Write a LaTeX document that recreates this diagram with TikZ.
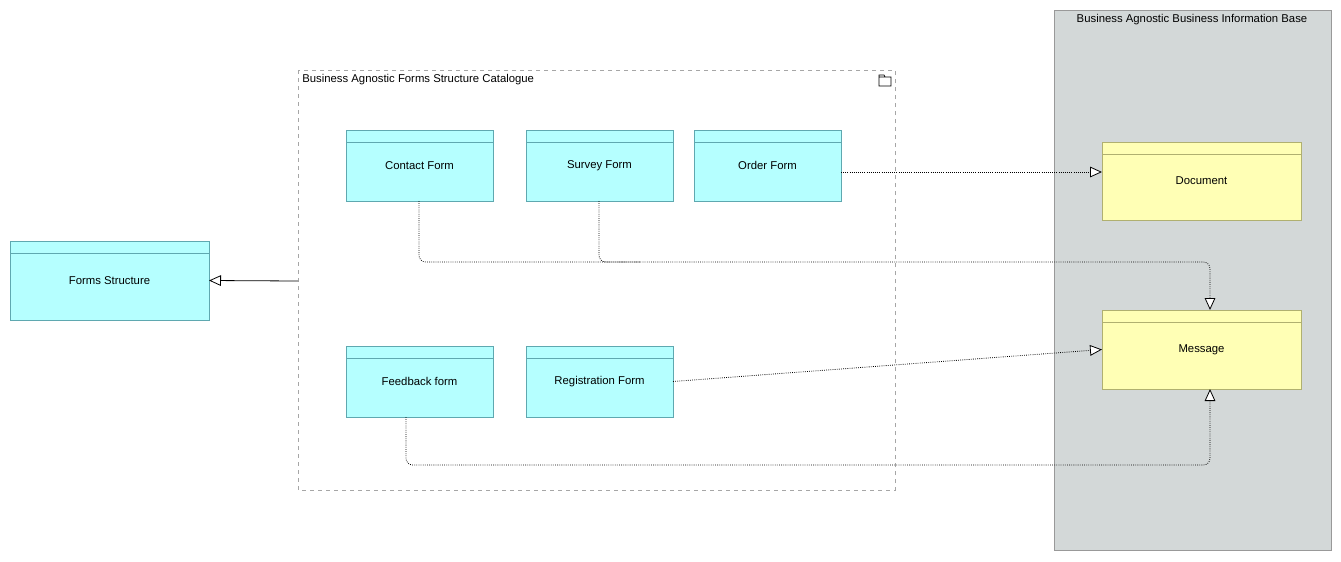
\documentclass[tikz,border=0pt]{standalone}
\usepackage{fontspec}
\setmainfont{Liberation Sans}
\usetikzlibrary{arrows.meta}
\definecolor{cyanf}{HTML}{B5FFFF}
\definecolor{cyanb}{HTML}{5FA8B0}
\definecolor{yelf}{HTML}{FFFFB5}
\definecolor{yelb}{HTML}{B0B070}
\definecolor{grayf}{HTML}{D3D8D8}
\tikzset{
  elem/.style={draw=#1, line width=0.6pt},
  lbl/.style={font=\fontsize{8.5}{10}\selectfont, inner sep=0pt},
  tri/.style={-{Triangle[open,length=9pt,width=8pt,fill=white]}},
  dep/.style={tri, densely dotted, line width=0.6pt, rounded corners=5pt},
}
\begin{document}
\begin{tikzpicture}[x=0.75pt,y=-0.75pt]
\useasboundingbox (0,0) rectangle (1341,561);
\fill[white] (0,0) rectangle (1341,561);
% gray container
\draw[fill=grayf, draw=gray!80] (1054,10) rectangle (1331,550);
\node[lbl] (bib) at (1192,20) {Business Agnostic Business Information Base};
% dashed group
\draw[dashed, draw=gray!70, line width=0.6pt] (298,70) rectangle (895,490);
\coordinate (grp) at (298,281);
\node[lbl, anchor=west] (grplbl) at (302,80) {Business Agnostic Forms Structure Catalogue};
\draw[line width=0.5pt] (879,77) rectangle (891,86) (879,77) -- (879,75) -- (884,75) -- (885,77);
% element macro
\newcommand{\elembox}[8]{% name x1 y1 x2 y2 fill border text
  \draw[fill=#6, draw=#7, line width=0.6pt] (#2,#3) rectangle (#4,#5);
  \draw[draw=#7, line width=0.6pt] (#2,#3+12) -- (#4,#3+12);
  \node[lbl] (#1) at ({(#2+#4)/2},{(#3+#5)/2}) {#8};
  \coordinate (#1-l) at (#2,{(#3+#5)/2});
  \coordinate (#1-r) at (#4,{(#3+#5)/2});
}
\elembox{fs}{10}{241}{209}{320}{cyanf}{cyanb}{Forms Structure}
\elembox{cf}{346}{130}{493}{201}{cyanf}{cyanb}{Contact Form}
\elembox{sf}{526}{130}{673}{201}{cyanf}{cyanb}{Survey Form}
\elembox{of}{694}{130}{841}{201}{cyanf}{cyanb}{Order Form}
\elembox{ff}{346}{346}{493}{417}{cyanf}{cyanb}{Feedback form}
\elembox{rf}{526}{346}{673}{417}{cyanf}{cyanb}{Registration Form}
\elembox{doc}{1102}{142}{1301}{220}{yelf}{yelb}{Document}
\elembox{msg}{1102}{310}{1301}{389}{yelf}{yelb}{Message}
\coordinate (cfb) at (419,201);
\coordinate (sfb) at (599,201);
\coordinate (ffb) at (406,417);
\coordinate (msgt) at (1210,310);
\coordinate (msgb) at (1210,389);
% connectors
\draw[tri, line width=0.6pt] (grp) -- (fs-r);
\draw[dep] (841,172) -- (1102,172);
\draw[dep] (cfb) -- (419,262) -- (1210,262) -- (msgt);
\draw[densely dotted, line width=0.6pt, rounded corners=5pt] (sfb) -- (599,262) -- (640,262);
\draw[dep] (rf-r) -- (msg-l);
\draw[dep] (ffb) -- (406,465) -- (1210,465) -- (msgb);
\end{tikzpicture}
\end{document}
